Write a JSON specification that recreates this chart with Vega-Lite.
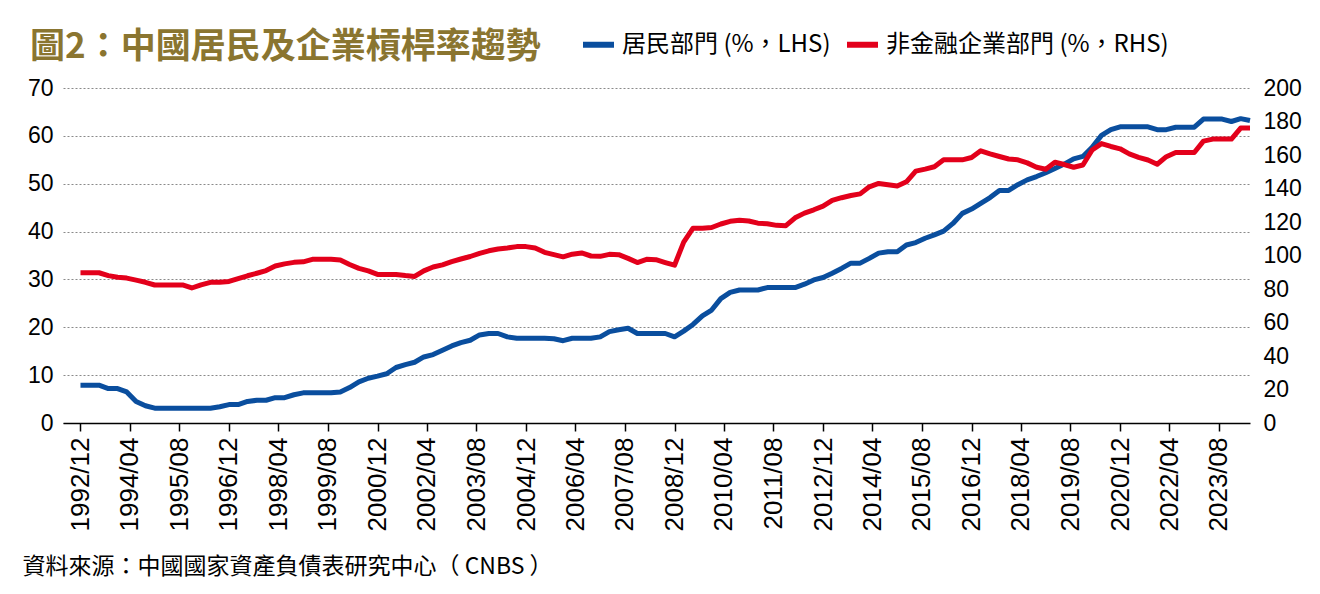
{
  "$schema": "https://vega.github.io/schema/vega-lite/v6.json",
  "width": 1187,
  "height": 335,
  "autosize": {"type": "none"},
  "padding": {"left": 63, "top": 88, "right": 70, "bottom": 171},
  "background": "white",
  "config": {"view": {"stroke": null}},
  "title": {
    "text": "圖2：中國居民及企業槓桿率趨勢",
    "anchor": "start",
    "frame": "group",
    "orient": "top",
    "dx": -33,
    "dy": 67,
    "offset": 0,
    "baseline": "alphabetic",
    "font": "Noto Sans CJK TC",
    "fontSize": 35,
    "fontWeight": "bold",
    "color": "#8A7530"
  },
  "data": {
    "format": {"parse": {"d": "utc:'%Y-%m'"}},
    "values": [
      {"d": "1992-12", "h": 7.9, "c": 89.7},
      {"d": "1993-03", "h": 7.9, "c": 89.7},
      {"d": "1993-06", "h": 7.9, "c": 89.7},
      {"d": "1993-09", "h": 7.2, "c": 88},
      {"d": "1993-12", "h": 7.2, "c": 87},
      {"d": "1994-03", "h": 6.5, "c": 86.5},
      {"d": "1994-06", "h": 4.5, "c": 85.3},
      {"d": "1994-09", "h": 3.6, "c": 84},
      {"d": "1994-12", "h": 3.1, "c": 82.4},
      {"d": "1995-03", "h": 3.1, "c": 82.4},
      {"d": "1995-06", "h": 3.1, "c": 82.4},
      {"d": "1995-09", "h": 3.1, "c": 82.4},
      {"d": "1995-12", "h": 3.1, "c": 80.6},
      {"d": "1996-03", "h": 3.1, "c": 82.5},
      {"d": "1996-06", "h": 3.1, "c": 84},
      {"d": "1996-09", "h": 3.4, "c": 84},
      {"d": "1996-12", "h": 3.85, "c": 84.5},
      {"d": "1997-03", "h": 3.85, "c": 86.2},
      {"d": "1997-06", "h": 4.5, "c": 87.9},
      {"d": "1997-09", "h": 4.75, "c": 89.4},
      {"d": "1997-12", "h": 4.75, "c": 91},
      {"d": "1998-03", "h": 5.3, "c": 93.7},
      {"d": "1998-06", "h": 5.3, "c": 95},
      {"d": "1998-09", "h": 5.9, "c": 95.9},
      {"d": "1998-12", "h": 6.3, "c": 96.2},
      {"d": "1999-03", "h": 6.3, "c": 97.7},
      {"d": "1999-06", "h": 6.3, "c": 97.7},
      {"d": "1999-09", "h": 6.3, "c": 97.7},
      {"d": "1999-12", "h": 6.5, "c": 97.3},
      {"d": "2000-03", "h": 7.4, "c": 94.6},
      {"d": "2000-06", "h": 8.6, "c": 92.3},
      {"d": "2000-09", "h": 9.35, "c": 90.8},
      {"d": "2000-12", "h": 9.8, "c": 88.7},
      {"d": "2001-03", "h": 10.3, "c": 88.7},
      {"d": "2001-06", "h": 11.6, "c": 88.7},
      {"d": "2001-09", "h": 12.2, "c": 88},
      {"d": "2001-12", "h": 12.7, "c": 87.5},
      {"d": "2002-03", "h": 13.8, "c": 90.8},
      {"d": "2002-06", "h": 14.3, "c": 93.1},
      {"d": "2002-09", "h": 15.2, "c": 94.4},
      {"d": "2002-12", "h": 16.1, "c": 96.3},
      {"d": "2003-03", "h": 16.8, "c": 97.9},
      {"d": "2003-06", "h": 17.3, "c": 99.4},
      {"d": "2003-09", "h": 18.4, "c": 101.3},
      {"d": "2003-12", "h": 18.7, "c": 102.8},
      {"d": "2004-03", "h": 18.7, "c": 103.9},
      {"d": "2004-06", "h": 18.0, "c": 104.5},
      {"d": "2004-09", "h": 17.7, "c": 105.3},
      {"d": "2004-12", "h": 17.7, "c": 105.3},
      {"d": "2005-03", "h": 17.7, "c": 104.5},
      {"d": "2005-06", "h": 17.7, "c": 101.9},
      {"d": "2005-09", "h": 17.6, "c": 100.5},
      {"d": "2005-12", "h": 17.2, "c": 99.2},
      {"d": "2006-03", "h": 17.7, "c": 100.8},
      {"d": "2006-06", "h": 17.7, "c": 101.5},
      {"d": "2006-09", "h": 17.7, "c": 99.7},
      {"d": "2006-12", "h": 18.0, "c": 99.5},
      {"d": "2007-03", "h": 19.1, "c": 100.7},
      {"d": "2007-06", "h": 19.5, "c": 100.5},
      {"d": "2007-09", "h": 19.8, "c": 98.3},
      {"d": "2007-12", "h": 18.7, "c": 95.8},
      {"d": "2008-03", "h": 18.7, "c": 97.7},
      {"d": "2008-06", "h": 18.7, "c": 97.5},
      {"d": "2008-09", "h": 18.7, "c": 95.8},
      {"d": "2008-12", "h": 18.0, "c": 94.2},
      {"d": "2009-03", "h": 19.2, "c": 108},
      {"d": "2009-06", "h": 20.6, "c": 116.3},
      {"d": "2009-09", "h": 22.4, "c": 116.3},
      {"d": "2009-12", "h": 23.6, "c": 116.7},
      {"d": "2010-03", "h": 26.0, "c": 118.8},
      {"d": "2010-06", "h": 27.3, "c": 120.4},
      {"d": "2010-09", "h": 27.8, "c": 121.0},
      {"d": "2010-12", "h": 27.8, "c": 120.6},
      {"d": "2011-03", "h": 27.8, "c": 119.3},
      {"d": "2011-06", "h": 28.3, "c": 119},
      {"d": "2011-09", "h": 28.3, "c": 118},
      {"d": "2011-12", "h": 28.3, "c": 117.8},
      {"d": "2012-03", "h": 28.3, "c": 122.5},
      {"d": "2012-06", "h": 29.0, "c": 125.3},
      {"d": "2012-09", "h": 29.9, "c": 127.3},
      {"d": "2012-12", "h": 30.4, "c": 129.5},
      {"d": "2013-03", "h": 31.3, "c": 132.9},
      {"d": "2013-06", "h": 32.3, "c": 134.5},
      {"d": "2013-09", "h": 33.4, "c": 135.8},
      {"d": "2013-12", "h": 33.4, "c": 136.8},
      {"d": "2014-03", "h": 34.4, "c": 141},
      {"d": "2014-06", "h": 35.5, "c": 143},
      {"d": "2014-09", "h": 35.8, "c": 142.2},
      {"d": "2014-12", "h": 35.8, "c": 141.5},
      {"d": "2015-03", "h": 37.2, "c": 144},
      {"d": "2015-06", "h": 37.7, "c": 150.4},
      {"d": "2015-09", "h": 38.6, "c": 151.6},
      {"d": "2015-12", "h": 39.3, "c": 153},
      {"d": "2016-03", "h": 40.1, "c": 157.1},
      {"d": "2016-06", "h": 41.7, "c": 157.1},
      {"d": "2016-09", "h": 43.8, "c": 157.1},
      {"d": "2016-12", "h": 44.7, "c": 158.5},
      {"d": "2017-03", "h": 45.9, "c": 162.5},
      {"d": "2017-06", "h": 47.1, "c": 160.7},
      {"d": "2017-09", "h": 48.6, "c": 159.1},
      {"d": "2017-12", "h": 48.6, "c": 157.6},
      {"d": "2018-03", "h": 49.8, "c": 157.1},
      {"d": "2018-06", "h": 50.8, "c": 155.3},
      {"d": "2018-09", "h": 51.5, "c": 152.7},
      {"d": "2018-12", "h": 52.3, "c": 151.5},
      {"d": "2019-03", "h": 53.2, "c": 155.7},
      {"d": "2019-06", "h": 54.1, "c": 154.3},
      {"d": "2019-09", "h": 55.2, "c": 152.7},
      {"d": "2019-12", "h": 55.7, "c": 154},
      {"d": "2020-03", "h": 57.6, "c": 163},
      {"d": "2020-06", "h": 60.1, "c": 166.8},
      {"d": "2020-09", "h": 61.3, "c": 165.1},
      {"d": "2020-12", "h": 61.9, "c": 163.7},
      {"d": "2021-03", "h": 61.9, "c": 160.7},
      {"d": "2021-06", "h": 61.9, "c": 158.6},
      {"d": "2021-09", "h": 61.9, "c": 157},
      {"d": "2021-12", "h": 61.3, "c": 154.5},
      {"d": "2022-03", "h": 61.3, "c": 159},
      {"d": "2022-06", "h": 61.8, "c": 161.5},
      {"d": "2022-09", "h": 61.8, "c": 161.5},
      {"d": "2022-12", "h": 61.8, "c": 161.5},
      {"d": "2023-03", "h": 63.5, "c": 168.3},
      {"d": "2023-06", "h": 63.5, "c": 169.5},
      {"d": "2023-09", "h": 63.5, "c": 169.5},
      {"d": "2023-12", "h": 63.0, "c": 169.5},
      {"d": "2024-03", "h": 63.6, "c": 176.1},
      {"d": "2024-06", "h": 63.2, "c": 176.1}
    ]
  },
  "encoding": {
    "x": {
      "field": "d",
      "type": "temporal",
      "scale": {
        "type": "utc",
        "nice": false,
        "domain": [
          {"year": 1992, "month": 6, "date": 12, "utc": true},
          {"year": 2024, "month": 6, "date": 1, "utc": true}
        ]
      },
      "axis": {
        "values": [
          {"year": 1992, "month": 12, "date": 1, "utc": true},
          {"year": 1994, "month": 4, "date": 1, "utc": true},
          {"year": 1995, "month": 8, "date": 1, "utc": true},
          {"year": 1996, "month": 12, "date": 1, "utc": true},
          {"year": 1998, "month": 4, "date": 1, "utc": true},
          {"year": 1999, "month": 8, "date": 1, "utc": true},
          {"year": 2000, "month": 12, "date": 1, "utc": true},
          {"year": 2002, "month": 4, "date": 1, "utc": true},
          {"year": 2003, "month": 8, "date": 1, "utc": true},
          {"year": 2004, "month": 12, "date": 1, "utc": true},
          {"year": 2006, "month": 4, "date": 1, "utc": true},
          {"year": 2007, "month": 8, "date": 1, "utc": true},
          {"year": 2008, "month": 12, "date": 1, "utc": true},
          {"year": 2010, "month": 4, "date": 1, "utc": true},
          {"year": 2011, "month": 8, "date": 1, "utc": true},
          {"year": 2012, "month": 12, "date": 1, "utc": true},
          {"year": 2014, "month": 4, "date": 1, "utc": true},
          {"year": 2015, "month": 8, "date": 1, "utc": true},
          {"year": 2016, "month": 12, "date": 1, "utc": true},
          {"year": 2018, "month": 4, "date": 1, "utc": true},
          {"year": 2019, "month": 8, "date": 1, "utc": true},
          {"year": 2020, "month": 12, "date": 1, "utc": true},
          {"year": 2022, "month": 4, "date": 1, "utc": true},
          {"year": 2023, "month": 8, "date": 1, "utc": true}
        ],
        "labelExpr": "utcFormat(datum.value, '%Y/%m')",
        "labelAngle": 270,
        "labelFont": "Liberation Sans",
        "labelFontSize": 26,
        "labelColor": "black",
        "labelPadding": 6,
        "labelOverlap": false,
        "labelFlush": false,
        "labelBound": false,
        "domainColor": "black",
        "domainWidth": 1.5,
        "tickColor": "black",
        "tickWidth": 1.5,
        "tickSize": 8,
        "grid": false,
        "title": "資料來源：中國國家資產負債表研究中心（ CNBS ）",
        "titleFont": "Noto Sans CJK TC",
        "titleFontSize": 23,
        "titleFontWeight": "normal",
        "titleColor": "black",
        "titleAnchor": "start",
        "titleAlign": "left",
        "titleBaseline": "alphabetic",
        "titleX": -41,
        "titleY": 150
      }
    }
  },
  "layer": [
    {
      "mark": {"type": "line", "strokeWidth": 5, "strokeJoin": "round"},
      "encoding": {
        "y": {
          "field": "h",
          "type": "quantitative",
          "scale": {"domain": [0, 70], "nice": false},
          "axis": {
            "orient": "left",
            "values": [0, 10, 20, 30, 40, 50, 60, 70],
            "domain": false,
            "ticks": false,
            "labelPadding": 10,
            "labelFont": "Liberation Sans",
            "labelFontSize": 23,
            "labelColor": "black",
            "grid": true,
            "gridColor": "#8a8a8a",
            "gridDash": [2, 2],
            "gridWidth": 1,
            "title": null
          }
        },
        "color": {
          "datum": "居民部門 (%，LHS)",
          "type": "nominal",
          "scale": {
            "domain": ["居民部門 (%，LHS)", "非金融企業部門 (%，RHS)"],
            "range": ["#0A4E9E", "#E3001B"]
          },
          "legend": {
            "orient": "none",
            "legendX": 517,
            "legendY": -62,
            "direction": "horizontal",
            "title": null,
            "padding": 0,
            "symbolType": "stroke",
            "symbolStrokeWidth": 6,
            "symbolSize": 961,
            "labelFont": "Noto Sans CJK TC",
            "labelFontSize": 24,
            "labelColor": "black",
            "labelLimit": 500,
            "labelOffset": 5,
            "columnPadding": 4
          }
        }
      }
    },
    {
      "mark": {"type": "line", "strokeWidth": 5, "strokeJoin": "round"},
      "encoding": {
        "y": {
          "field": "c",
          "type": "quantitative",
          "scale": {"domain": [0, 200], "nice": false},
          "axis": {
            "orient": "right",
            "values": [0, 20, 40, 60, 80, 100, 120, 140, 160, 180, 200],
            "domain": false,
            "ticks": false,
            "labelPadding": 13,
            "labelFont": "Liberation Sans",
            "labelFontSize": 23,
            "labelColor": "black",
            "grid": false,
            "title": null
          }
        },
        "color": {"datum": "非金融企業部門 (%，RHS)", "type": "nominal"}
      }
    }
  ],
  "resolve": {"scale": {"y": "independent"}}
}
